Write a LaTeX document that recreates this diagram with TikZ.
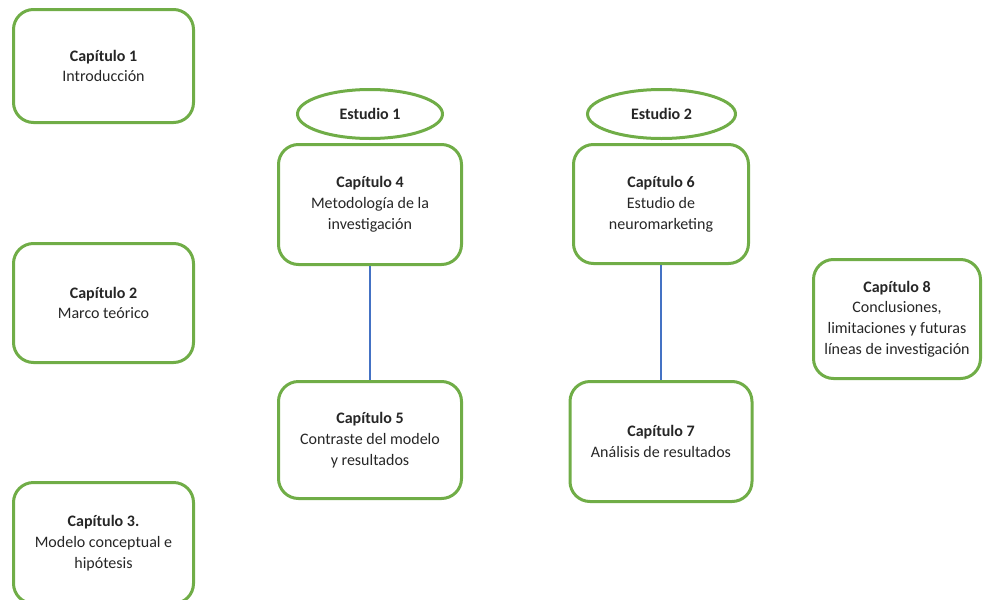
\documentclass[tikz,border=0pt]{standalone}
\usepackage{fontspec}
\setmainfont{Carlito}
\usetikzlibrary{shapes.geometric}
\definecolor{grn}{HTML}{70AD47}
\definecolor{blu}{HTML}{4472C4}
\definecolor{txt}{HTML}{262626}
\begin{document}
\begin{tikzpicture}[x=1pt,y=-1pt,
  chap/.style={draw=grn, line width=3pt, rounded corners=20pt, align=center, inner sep=0pt, text=txt, font=\fontsize{16}{20.8}\selectfont},
  stud/.style={draw=grn, line width=3pt, ellipse, inner sep=0pt, text=txt, font=\fontsize{16}{20.8}\selectfont\bfseries},
  link/.style={draw=blu, line width=1.3pt}]
\useasboundingbox (0,0) rectangle (986,600);
\clip (0,0) rectangle (986,600);
\node[chap, minimum width=180pt, minimum height=113pt] (c1) at (103.5,66) {\textbf{Capítulo 1}\\Introducción};
\node[chap, minimum width=180pt, minimum height=119pt] (c2) at (103.5,303) {\textbf{Capítulo 2}\\Marco teórico};
\node[chap, minimum width=180pt, minimum height=121pt] (c3) at (103.5,543) {\textbf{Capítulo 3.}\\Modelo conceptual e\\hipótesis};
\node[stud, minimum width=145pt, minimum height=49pt] (e1) at (370,114) {Estudio 1};
\node[chap, minimum width=183pt, minimum height=120pt] (c4) at (370,204.5) {\textbf{Capítulo 4}\\Metodología de la\\investigación};
\node[chap, minimum width=183pt, minimum height=117pt] (c5) at (370,440) {\textbf{Capítulo 5}\\Contraste del modelo\\y resultados};
\node[stud, minimum width=148pt, minimum height=49pt] (e2) at (661.5,114) {Estudio 2};
\node[chap, minimum width=175pt, minimum height=119pt] (c6) at (661,204) {\textbf{Capítulo 6}\\Estudio de\\neuromarketing};
\node[chap, minimum width=182pt, minimum height=120pt] (c7) at (661,441.5) {\textbf{Capítulo 7}\\Análisis de resultados};
\node[chap, minimum width=167pt, minimum height=119pt] (c8) at (897,319) {\textbf{Capítulo 8}\\Conclusiones,\\limitaciones y futuras\\líneas de investigación};
\draw[link] (c4.south) -- (c5.north);
\draw[link] (c6.south) -- (c7.north);
\end{tikzpicture}
\end{document}
